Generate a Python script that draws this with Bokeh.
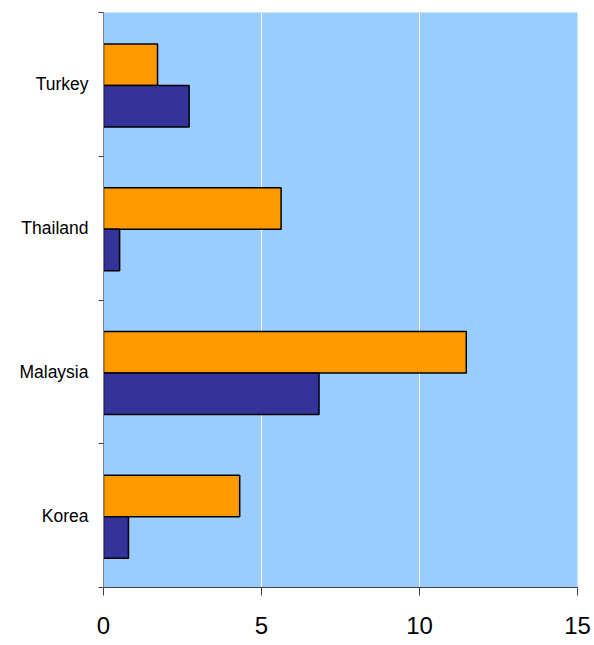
from bokeh.plotting import figure
from bokeh.models import Range1d, FixedTicker, ColumnDataSource
from bokeh.embed import file_html
from bokeh.resources import INLINE

countries = ["Korea", "Malaysia", "Thailand", "Turkey"]  # bottom to top
orange_vals = [4.31, 11.48, 5.62, 1.71]
blue_vals = [0.79, 6.82, 0.51, 2.71]
x_ticks = [0, 5, 10, 15]

ORANGE = "#FF9900"
BLUE = "#333399"
BG = "#99CCFF"

centers = [i + 0.5 for i in range(len(countries))]
bounds = list(range(len(countries) + 1))

p = figure(width=594, height=645, output_backend="svg", toolbar_location=None,
           x_range=Range1d(0, 15), y_range=Range1d(0, len(countries)),
           min_border_left=103, min_border_right=17, min_border_top=12, min_border_bottom=58)
p.background_fill_color = BG
p.border_fill_color = "white"
p.outline_line_color = None

src_o = ColumnDataSource(dict(y=[c + 0.137 for c in centers], right=orange_vals))
src_b = ColumnDataSource(dict(y=[c - 0.152 for c in centers], right=blue_vals))
p.hbar(y="y", left=0, right="right", height=0.289, source=src_o,
       fill_color=ORANGE, line_color="black", line_width=1.5)
p.hbar(y="y", left=0, right="right", height=0.289, source=src_b,
       fill_color=BLUE, line_color="black", line_width=1.5)

# grid
p.ygrid.grid_line_color = None
p.xgrid.ticker = FixedTicker(ticks=[5, 10])
p.xgrid.grid_line_color = "white"
p.xgrid.grid_line_width = 1

# x axis
p.xaxis.ticker = FixedTicker(ticks=x_ticks)
p.xaxis.major_tick_in = 0
p.xaxis.major_tick_out = 8
p.xaxis.minor_tick_line_color = None
p.xaxis.axis_line_color = "#404040"
p.xaxis.major_tick_line_color = "#404040"
p.xaxis.major_label_text_font = "Liberation Sans"
p.xaxis.major_label_text_font_size = "24px"
p.xaxis.major_label_text_color = "black"
p.xaxis.major_label_standoff = 21

# y axis
p.yaxis.ticker = FixedTicker(ticks=centers, minor_ticks=bounds)
p.yaxis.major_label_overrides = {c: n for c, n in zip(centers, countries)}
p.yaxis.major_tick_in = 0
p.yaxis.major_tick_out = 0
p.yaxis.major_tick_line_color = None
p.yaxis.minor_tick_in = 0
p.yaxis.minor_tick_out = 5
p.yaxis.minor_tick_line_color = "#404040"
p.yaxis.axis_line_color = "#808080"
p.yaxis.major_label_text_font = "Liberation Sans"
p.yaxis.major_label_text_font_size = "17.5px"
p.yaxis.major_label_text_color = "black"
p.yaxis.major_label_standoff = 10

open("out.html", "w").write(file_html(p, INLINE))
